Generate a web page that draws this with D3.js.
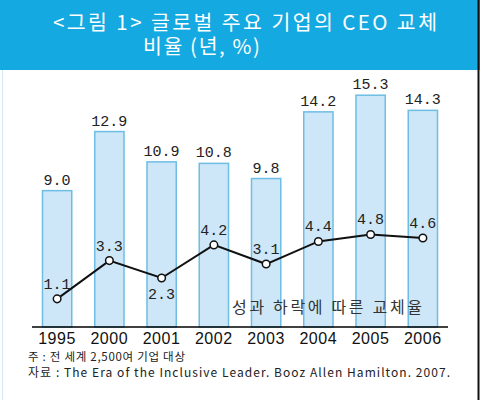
<!DOCTYPE html>
<html>
<head>
<meta charset="utf-8">
<script src="https://cdn.jsdelivr.net/npm/d3@7"></script>
<style>
  html, body { margin: 0; padding: 0; background: #fff; }
  svg { display: block; }
</style>
</head>
<body>
<div id="chart"></div>
<script>
const years = ['1995', '2000', '2001', '2002', '2003', '2004', '2005', '2006'];
const totalRate = [9.0, 12.9, 10.9, 10.8, 9.8, 14.2, 15.3, 14.3];
const perfRate = [1.1, 3.3, 2.3, 4.2, 3.1, 4.4, 4.8, 4.6];
const perfBelow = ['2001']; // label drawn under the point
const titleLines = ['<그림 1> 글로벌 주요 기업의 CEO 교체', '비율 (년, %)'];
const lineLabel = '성과 하락에 따른 교체율';
const notes = ['주 : 전 세계 2,500여 기업 대상', '자료 : The Era of the Inclusive Leader. Booz Allen Hamilton. 2007.'];

const W = 480, H = 405;
const svg = d3.select('#chart').append('svg').attr('width', W).attr('height', H);

// frame + title banner
svg.append('rect').attr('x', 0).attr('y', 0).attr('width', W).attr('height', 70).attr('fill', '#14a9e1');
svg.append('line').attr('x1', 2.5).attr('x2', 2.5).attr('y1', 70).attr('y2', 400).attr('stroke', '#d3e9f4').attr('stroke-width', 1);
svg.append('line').attr('x1', 478.5).attr('x2', 478.5).attr('y1', 0).attr('y2', 400).attr('stroke', '#111').attr('stroke-width', 2);

const kFont = '"Noto Sans CJK KR", "Noto Sans", sans-serif';
svg.append('text').attr('x', 53).attr('y', 30).attr('fill', '#fff')
  .attr('textLength', 384).attr('lengthAdjust', 'spacing')
  .style('font-family', kFont).style('font-size', '20.5px').text(titleLines[0]);
svg.append('text').attr('x', 143).attr('y', 54).attr('fill', '#fff')
  .attr('textLength', 117).attr('lengthAdjust', 'spacing')
  .style('font-family', kFont).style('font-size', '20.5px').text(titleLines[1]);

// scales
const x = d3.scaleBand().domain(years).range([31, 449]).paddingInner(0.44).paddingOuter(0.22);
const yBar = d3.scaleLinear().domain([0, 16]).range([327, 84.6]);
const yLine = d3.scaleLinear().domain([0, 5]).range([318, 231]);
const cx = d => x(d) + x.bandwidth() / 2;

const g = svg.append('g');

g.selectAll('.bar').data(years).enter().append('rect').attr('class', 'bar')
  .attr('x', d => x(d)).attr('width', x.bandwidth())
  .attr('y', (d, i) => yBar(totalRate[i])).attr('height', (d, i) => yBar(0) - yBar(totalRate[i]))
  .attr('fill', '#cde7f8').attr('stroke', '#6dbde4').attr('stroke-width', 1.5);

const numFont = '"Liberation Mono", "DejaVu Sans Mono", monospace';
g.selectAll('.bar-label').data(years).enter().append('text').attr('class', 'bar-label')
  .attr('x', d => cx(d)).attr('y', (d, i) => yBar(totalRate[i]) - 6)
  .attr('text-anchor', 'middle').attr('fill', '#222')
  .style('font-family', numFont).style('font-size', '15px')
  .text((d, i) => totalRate[i].toFixed(1));

// x axis: baseline + year labels, no ticks
const xAxis = d3.axisBottom(x).tickSize(0).tickPadding(6);
const xg = g.append('g').attr('transform', 'translate(0,327)').call(xAxis);
xg.select('.domain').attr('d', 'M32,0H448').attr('stroke', '#000').attr('stroke-width', 1.5);
xg.selectAll('.tick text').attr('fill', '#111')
  .style('font-family', '"Liberation Sans", sans-serif').style('font-size', '16px')
  .style('letter-spacing', '0.6px');

// performance-driven turnover line
const line = d3.line().x(d => cx(d)).y((d, i) => yLine(perfRate[i]));
g.append('path').datum(years).attr('d', line)
  .attr('fill', 'none').attr('stroke', '#111').attr('stroke-width', 2);
g.selectAll('.pt').data(years).enter().append('circle').attr('class', 'pt')
  .attr('cx', d => cx(d)).attr('cy', (d, i) => yLine(perfRate[i])).attr('r', 3.8)
  .attr('fill', '#fff').attr('stroke', '#111').attr('stroke-width', 1.5);
g.selectAll('.pt-label').data(years).enter().append('text').attr('class', 'pt-label')
  .attr('x', d => cx(d))
  .attr('y', (d, i) => yLine(perfRate[i]) + (perfBelow.includes(d) ? 21 : -10))
  .attr('text-anchor', 'middle').attr('fill', '#222')
  .style('font-family', numFont).style('font-size', '15px')
  .text((d, i) => perfRate[i].toFixed(1));

g.append('text').attr('x', 232).attr('y', 313).attr('fill', '#333')
  .attr('textLength', 190).attr('lengthAdjust', 'spacing')
  .style('font-family', kFont).style('font-size', '16px')
  .text(lineLabel);

// notes
svg.append('text').attr('x', 28).attr('y', 361).attr('fill', '#222')
  .attr('textLength', 157).attr('lengthAdjust', 'spacing')
  .style('font-family', kFont).style('font-size', '11.5px').text(notes[0]);
svg.append('text').attr('x', 28).attr('y', 377).attr('fill', '#222')
  .attr('textLength', 422).attr('lengthAdjust', 'spacing')
  .style('font-family', kFont).style('font-size', '12px').text(notes[1]);
</script>
</body>
</html>
